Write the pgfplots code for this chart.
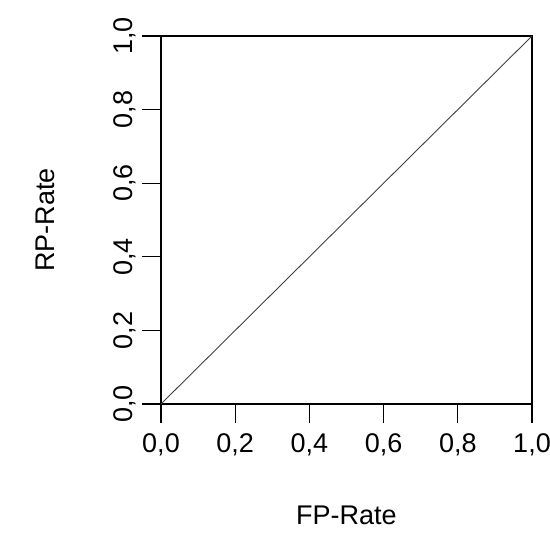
\documentclass[border=0pt]{standalone}
\usepackage{pgfplots}
\pgfplotsset{compat=1.18}
\usepackage{fontspec}
\setmainfont{Liberation Sans}
\begin{document}
\begin{tikzpicture}
\path[use as bounding box] (0,0) rectangle (550bp,553bp);
\begin{axis}[
  at={(161bp,149bp)}, anchor=south west,
  scale only axis, width=371bp, height=368bp,
  xmin=0, xmax=1, ymin=0, ymax=1,
  axis line style={line width=1.2bp},
  xtick={0,0.2,0.4,0.6,0.8,1},
  ytick={0,0.2,0.4,0.6,0.8,1},
  xticklabels={{0,0},{0,2},{0,4},{0,6},{0,8},{1,0}},
  yticklabels={{0,0},{0,2},{0,4},{0,6},{0,8},{1,0}},
  tick align=outside, major tick length=19bp,
  tick style={line width=1.2bp, black},
  xtick pos=bottom, ytick pos=left,
  ticklabel style={font=\fontsize{27bp}{32bp}\selectfont, inner sep=0pt},
  xticklabel style={anchor=base, yshift=-29bp},
  yticklabel style={anchor=base, xshift=-9.5bp, rotate=90},
  label style={font=\fontsize{27bp}{32bp}\selectfont, inner sep=0pt},
  xlabel={FP-Rate},
  ylabel={RP-Rate},
  xlabel style={at={(axis description cs:0.5,-0.328)}, anchor=base},
  ylabel style={at={(axis description cs:-0.2865,0.5)}, anchor=base},
]
\addplot[black!75, line width=0.9bp] coordinates {(0,0) (0.5,0.5) (1,1)};
\end{axis}
\end{tikzpicture}
\end{document}
